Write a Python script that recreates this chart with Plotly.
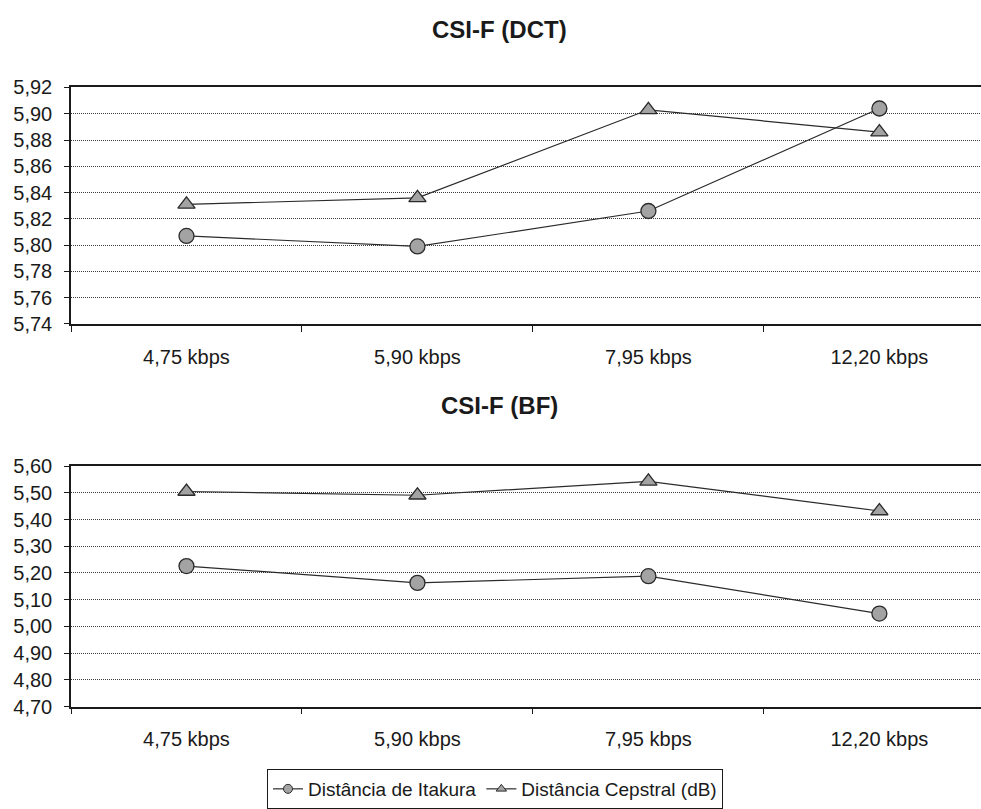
import plotly.graph_objects as go

# Bit rates of the AMR codec modes
categories = ["4,75 kbps", "5,90 kbps", "7,95 kbps", "12,20 kbps"]

# CSI-F (DCT)
dct_itakura = [5.807, 5.799, 5.826, 5.904]
dct_cepstral = [5.831, 5.836, 5.903, 5.886]

# CSI-F (BF)
bf_itakura = [5.226, 5.163, 5.188, 5.048]
bf_cepstral = [5.505, 5.491, 5.543, 5.432]

series_names = ["Distância de Itakura", "Distância Cepstral (dB)"]
titles = ["CSI-F (DCT)", "CSI-F (BF)"]

W, H = 981, 809
FONT = "Liberation Sans, Arial, sans-serif"
INK = "#1a1a1a"
LINE = "#2b2b2b"
FILL = "#a3a3a3"
SYMBOLS = ["circle", "triangle-up"]
SIZES = [15, 15]

fig = go.Figure()


def add_pair(values, xa, ya):
    for i, ys in enumerate(values):
        fig.add_trace(go.Scatter(
            x=categories, y=ys, name=series_names[i], xaxis=xa, yaxis=ya,
            mode="lines+markers", showlegend=False,
            line=dict(color=LINE, width=1.2),
            marker=dict(symbol=SYMBOLS[i], size=SIZES[i], color=FILL,
                        line=dict(color=LINE, width=1.3)),
        ))


add_pair([dct_itakura, dct_cepstral], "x", "y")
add_pair([bf_itakura, bf_cepstral], "x2", "y2")

# Legend keys use smaller markers than the plotted points
for i, name in enumerate(series_names):
    fig.add_trace(go.Scatter(
        x=[None], y=[None], name=name, mode="lines+markers",
        line=dict(color=LINE, width=1.2),
        marker=dict(symbol=SYMBOLS[i], size=9, color=FILL,
                    line=dict(color=LINE, width=1)),
    ))

x_dom = [71 / W, 1.0]


def xaxis(anchor):
    return dict(
        domain=x_dom, anchor=anchor, type="category",
        range=[-0.5, 3.44], showgrid=False, zeroline=False,
        showline=True, linecolor=INK, linewidth=1.5, mirror=True,
        ticks="outside", tickson="boundaries", ticklen=6, tickcolor=INK,
        tickfont=dict(family=FONT, size=20, color=INK),
        ticklabelstandoff=14, automargin=False,
    )


def yaxis(anchor, top_px, bot_px, lo, hi, step):
    return dict(
        domain=[1 - bot_px / H, 1 - top_px / H], anchor=anchor,
        range=[lo, hi], dtick=step, tick0=lo, tickformat=".2f",
        showgrid=True, gridcolor="#3a3a3a", griddash="1px,1px", gridwidth=1,
        zeroline=False, showline=True, linecolor=INK, linewidth=1.5,
        mirror=True, ticks="outside", ticklen=5, tickcolor=INK,
        tickfont=dict(family=FONT, size=20, color=INK),
        ticklabelstandoff=8, automargin=False,
    )


fig.update_layout(
    width=W, height=H,
    margin=dict(l=0, r=0, t=0, b=0),
    paper_bgcolor="white", plot_bgcolor="white",
    separators=", ",
    font=dict(family=FONT, color=INK),
    xaxis=xaxis("y"),
    yaxis=yaxis("x", 88, 326, 5.74, 5.92, 0.02),
    xaxis2=xaxis("y2"),
    yaxis2=yaxis("x2", 469, 711, 4.70, 5.60, 0.10),
    legend=dict(
        orientation="h", x=495 / W, xanchor="center",
        y=1 - 774 / H, yanchor="top",
        bordercolor=INK, borderwidth=1, bgcolor="white",
        font=dict(family=FONT, size=19, color=INK),
        itemwidth=30, tracegroupgap=0,
    ),
    annotations=[
        dict(text="<b>%s</b>" % titles[0], x=500 / W, y=1 - 30 / H,
             xref="paper", yref="paper", showarrow=False, yanchor="middle",
             font=dict(family=FONT, size=24, color=INK)),
        dict(text="<b>%s</b>" % titles[1], x=500 / W, y=1 - 408 / H,
             xref="paper", yref="paper", showarrow=False, yanchor="middle",
             font=dict(family=FONT, size=24, color=INK)),
    ],
)

fig.write_html("out.html")
